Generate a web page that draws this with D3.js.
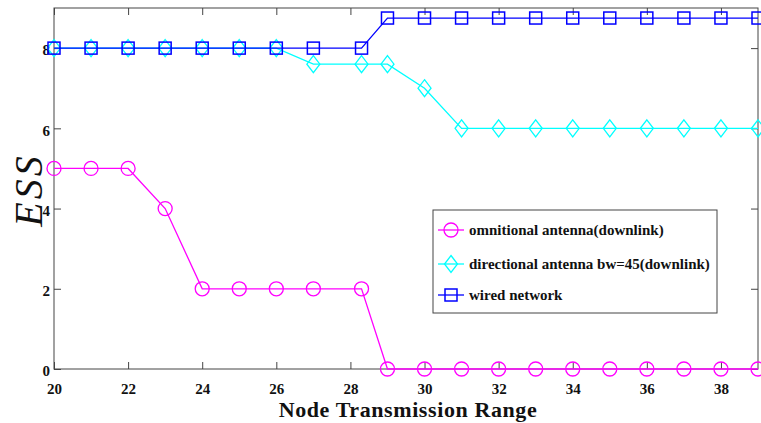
<!DOCTYPE html>
<html><head><meta charset="utf-8">
<script src="https://cdn.jsdelivr.net/npm/d3@7"></script>
<style>body{margin:0;background:#fff}</style>
</head><body>
<svg id="c" width="761" height="423"></svg>
<script>
const xTicks = [20,22,24,26,28,30,32,34,36,38];
const yTicks = [0,2,4,6,8];
const omniX = [20,21,22,23,24,25,26,27,28.3,29,30,31,32,33,34,35,36,37,38,39];
const omniY = [5,5,5,4,2,2,2,2,2,0,0,0,0,0,0,0,0,0,0,0];
const dirX = [20,21,22,23,24,25,26,27,28.3,29,30,31,32,33,34,35,36,37,38,39];
const dirY = [8,8,8,8,8,8,8,7.6,7.6,7.6,7,6,6,6,6,6,6,6,6,6];
const wiredX = [20,21,22,23,24,25,26,27,28.3,29,30,31,32,33,34,35,36,37,38,39];
const wiredY = [8,8,8,8,8,8,8,8,8,8.75,8.75,8.75,8.75,8.75,8.75,8.75,8.75,8.75,8.75,8.75];
const seriesNames = ["omnitional antenna(downlink)","directional antenna bw=45(downlink)","wired network"];

const svg = d3.select("#c");
const L=54, R=758, T=8, B=369;
const x = d3.scaleLinear().domain([20,39]).range([L,R]);
const y = d3.scaleLinear().domain([0,9]).range([B,T]);
const serif = "'Liberation Serif','Times New Roman',serif";
const axisCol = "#444";

// frame
svg.append("rect").attr("x",L).attr("y",T).attr("width",R-L).attr("height",B-T)
  .attr("fill","none").attr("stroke",axisCol).attr("stroke-width",1);

// axes
const gx = svg.append("g").attr("transform",`translate(0,${B})`)
  .call(d3.axisBottom(x).tickValues(xTicks).tickSize(-7).tickPadding(14).tickFormat(d3.format("d")));
const gxt = svg.append("g").attr("transform",`translate(0,${T})`)
  .call(d3.axisTop(x).tickValues(xTicks).tickSize(-7).tickFormat(""));
const gy = svg.append("g").attr("transform",`translate(${L},0)`)
  .call(d3.axisLeft(y).tickValues(yTicks).tickSize(-7).tickPadding(4).tickFormat(d3.format("d")));
const gyr = svg.append("g").attr("transform",`translate(${R},0)`)
  .call(d3.axisRight(y).tickValues(yTicks).tickSize(-7).tickFormat(""));
[gx,gxt,gy,gyr].forEach(g=>{
  g.select(".domain").remove();
  g.selectAll(".tick line").attr("stroke",axisCol);
  g.selectAll("text").attr("font-family",serif).attr("font-weight","bold")
    .attr("font-size",15).attr("fill","#111");
});
gy.selectAll("text").attr("dy","0.45em");

// series
const series = [
  {xs:omniX, ys:omniY, color:"#ff00ff", marker:"circle"},
  {xs:dirX, ys:dirY, color:"#00ffff", marker:"diamond"},
  {xs:wiredX, ys:wiredY, color:"#0000ff", marker:"square"}
];
function drawMarker(g, type, cx, cy, color){
  if(type==="circle"){
    g.append("circle").attr("cx",cx).attr("cy",cy).attr("r",7)
      .attr("fill","none").attr("stroke",color).attr("stroke-width",1.3);
  } else if(type==="diamond"){
    g.append("path").attr("d",`M${cx},${cy-8.5}L${cx+6.5},${cy}L${cx},${cy+8.5}L${cx-6.5},${cy}Z`)
      .attr("fill","none").attr("stroke",color).attr("stroke-width",1.3);
  } else {
    g.append("rect").attr("x",cx-6).attr("y",cy-6).attr("width",12).attr("height",12)
      .attr("fill","none").attr("stroke",color).attr("stroke-width",1.5);
  }
}
const line = d3.line().x(d=>x(d[0])).y(d=>y(d[1]));
series.forEach(s=>{
  const pts = s.xs.map((v,i)=>[v,s.ys[i]]);
  const g = svg.append("g");
  g.append("path").attr("d",line(pts)).attr("fill","none").attr("stroke",s.color).attr("stroke-width",1.3);
  pts.forEach(p=>drawMarker(g,s.marker,x(p[0]),y(p[1]),s.color));
});

// legend
const lg = svg.append("g");
lg.append("rect").attr("x",433).attr("y",210).attr("width",284).attr("height",103)
  .attr("fill","#fff").attr("stroke",axisCol).attr("stroke-width",1);
const ly = [230,264,295];
series.forEach((s,i)=>{
  lg.append("line").attr("x1",438).attr("x2",464).attr("y1",ly[i]).attr("y2",ly[i])
    .attr("stroke",s.color).attr("stroke-width",1.3);
  drawMarker(lg,s.marker,451,ly[i],s.color);
  lg.append("text").attr("x",469).attr("y",ly[i]).attr("dy","0.35em")
    .attr("font-family",serif).attr("font-weight","bold").attr("font-size",15)
    .attr("fill","#111").text(seriesNames[i]);
});

// axis labels
svg.append("text").attr("x",408).attr("y",417).attr("text-anchor","middle")
  .attr("font-family",serif).attr("font-weight","bold").attr("font-size",22)
  .attr("letter-spacing",0.6).attr("fill","#111").text("Node Transmission Range");
svg.append("text").attr("transform","translate(42,190) rotate(-90)").attr("text-anchor","middle")
  .attr("font-family",serif).attr("font-style","italic").attr("font-size",40)
  .attr("letter-spacing",3).attr("fill","#111").text("ESS");
</script>
</body></html>
